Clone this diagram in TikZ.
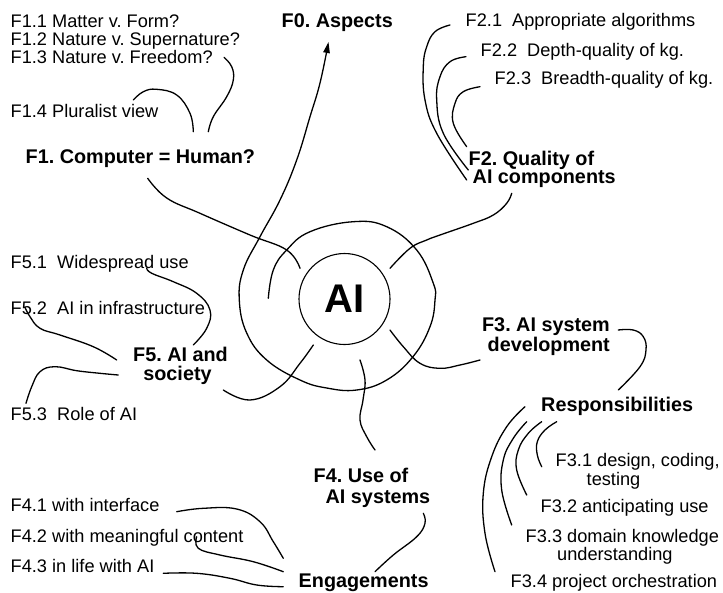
\documentclass[tikz,border=0pt]{standalone}
\usepackage{fontspec}
\setmainfont{Liberation Sans}
\usetikzlibrary{arrows.meta}
\frenchspacing
\begin{document}
\begin{tikzpicture}[x=1pt,y=-1pt,
  lbl/.style={inner sep=0pt,anchor=base west,font=\fontsize{18.2}{20}\selectfont},
  hd/.style={inner sep=0pt,anchor=base west,font=\fontsize{19.8}{22}\selectfont\bfseries},
  conn/.style={line width=1.3pt,line cap=round},
  crv/.style={smooth,tension=0.7}]
\useasboundingbox[fill=white] (0,0) rectangle (723,592);

% central circle
\node[circle,draw,line width=1.1pt,minimum size=91pt,inner sep=0pt,
      font=\fontsize{40}{40}\selectfont\bfseries] (ai) at (344.5,299) {AI};

% main labels
\node[hd] (f0) at (281.5,27) {F0. Aspects};
\node[hd] (f1) at (25.5,163) {F1. Computer = Human?};
\node[hd] (f2a) at (468.5,165) {F2. Quality of};
\node[hd] (f2b) at (472.5,183.5) {AI components};
\node[hd,anchor=base east] (f3a) at (610,331) {F3. AI system};
\node[hd,anchor=base east] (f3b) at (610,351) {development};
\node[hd] (resp) at (541,411) {Responsibilities};
\node[hd] (f4a) at (313.5,482.5) {F4. Use of};
\node[hd] (f4b) at (325.5,503) {AI systems};
\node[hd] (eng) at (298.5,587) {Engagements};
\node[hd,anchor=base] (f5a) at (180.5,361.5) {F5. AI and};
\node[hd,anchor=base] (f5b) at (177.5,380) {society};

% sub labels
\node[lbl] (f11) at (10.5,27) {F1.1 Matter v. Form?};
\node[lbl] (f12) at (10.5,45) {F1.2 Nature v. Supernature?};
\node[lbl] (f13) at (10.5,63) {F1.3 Nature v. Freedom?};
\node[lbl] (f14) at (10.5,117) {F1.4 Pluralist view};
\node[lbl] (f21) at (465.5,26) {F2.1~~Appropriate algorithms};
\node[lbl] (f22) at (480.5,56) {F2.2~~Depth-quality of kg.};
\node[lbl] (f23) at (494.5,84) {F2.3~~Breadth-quality of kg.};
\node[lbl] (f31) at (555.5,466) {F3.1 design, coding,};
\node[lbl] (f31b) at (586.5,485) {testing};
\node[lbl] (f32) at (540.5,512) {F3.2 anticipating use};
\node[lbl] (f33) at (525.5,542) {F3.3 domain knowledge};
\node[lbl] (f33b) at (557,560) {understanding};
\node[lbl] (f34) at (510.5,587) {F3.4 project orchestration};
\node[lbl] (f41) at (10.5,511.5) {F4.1 with interface};
\node[lbl] (f42) at (10.5,542.5) {F4.2 with meaningful content};
\node[lbl] (f43) at (10.5,572) {F4.3 in life with AI};
\node[lbl] (f51) at (10.5,268) {F5.1~~Widespread use};
\node[lbl] (f52) at (10.5,314) {F5.2~~AI in infrastructure};
\node[lbl] (f53) at (10.5,420.5) {F5.3~~Role of AI};

% named end points
\coordinate (sp0) at (268.3,298.3);
\coordinate (f0tip) at (328.5,42);
\coordinate (f1s) at (147.7,178.3);   \coordinate (f1e) at (300,268.3);
\coordinate (f1as) at (224,57.3);     \coordinate (f1ae) at (208.3,131.7);
\coordinate (f1bs) at (133.3,100);    \coordinate (f1be) at (193.3,131.7);
\coordinate (f2s) at (511.7,193.3);   \coordinate (f2e) at (390,268.3);
\coordinate (f21s) at (450,25);       \coordinate (f21e) at (466.7,180);
\coordinate (f22s) at (466,56.7);     \coordinate (f22e) at (468.3,170);
\coordinate (f23s) at (480,86.7);     \coordinate (f23e) at (466.7,146.7);
\coordinate (f3s) at (390,330);       \coordinate (f3e) at (480,360);
\coordinate (f3rs) at (618.3,330);    \coordinate (f3re) at (618.3,390);
\coordinate (f31s) at (556.7,421.7);  \coordinate (f31e) at (541.7,466.7);
\coordinate (f32s) at (541.7,421.7);  \coordinate (f32e) at (526.7,495);
\coordinate (f33s) at (526.7,421.7);  \coordinate (f33e) at (511.7,525);
\coordinate (f34s) at (525,406.7);    \coordinate (f34e) at (495,571.7);
\coordinate (f4s) at (360,360);       \coordinate (f4e) at (375,450);
\coordinate (f4rs) at (423.3,513.3);  \coordinate (f4re) at (375,571.7);
\coordinate (f41s) at (176.7,511.7);  \coordinate (f41e) at (283.3,558.3);
\coordinate (f42s) at (196.7,536.7);  \coordinate (f42e) at (283.3,571.7);
\coordinate (f43s) at (163.3,573.3);  \coordinate (f43e) at (283.3,586.7);
\coordinate (f5s) at (313.3,345);     \coordinate (f5e) at (223.3,390);
\coordinate (f51s) at (146.7,268.3);  \coordinate (f51e) at (193.3,345);
\coordinate (f52s) at (25,307.3);     \coordinate (f52e) at (116.7,360);
\coordinate (f53s) at (118.3,375);    \coordinate (f53e) at (26,403.3);

% spiral to F0
\draw[conn,-{Triangle[length=11pt,width=6.5pt]}] plot[crv] coordinates {
  (sp0) (273.3,270) (286.7,250) (310,231.7) (353.3,221.7) (386.7,226.7)
  (416.7,250) (433.3,283.3) (435,300) (430,326.7) (413,356.7) (386.7,380)
  (356.7,390) (326.7,388) (300,380) (266.7,360) (246.7,333) (239.3,300)
  (243.3,270) (260,236.7) (280,200) (296.7,160) (310,116.7) (320,83) (f0tip)};

% F1
\draw[conn] plot[crv] coordinates {(f1s) (166.7,198) (200,213.3) (250,235) (286.7,250) (f1e)};
\draw[conn] plot[crv] coordinates {(f1as) (231.7,66.7) (233.3,80) (226.7,96.7) (213.3,116.7) (f1ae)};
\draw[conn] plot[crv] coordinates {(f1bs) (143.3,91.7) (156.7,89.3) (176.7,95) (190,113.3) (f1be)};

% F2
\draw[conn] plot[crv] coordinates {(f2s) (506.7,203.3) (493.3,215) (473.3,223.3) (440,235) (426.7,240) (410,248.3) (f2e)};
\draw[conn] plot[crv] coordinates {(f21s) (435,31.7) (426.7,46.7) (423.3,66.7) (425,100) (436.7,133.3) (f21e)};
\draw[conn] plot[crv] coordinates {(f22s) (450,61.7) (440,76.7) (436.7,100) (443.3,133.3) (f22e)};
\draw[conn] plot[crv] coordinates {(f23s) (463.3,91.7) (455,103.3) (453.3,123.3) (f23e)};

% F3
\draw[conn] plot[crv] coordinates {(f3s) (403.3,346.7) (420,363.3) (440,368.3) (460,365) (f3e)};
\draw[conn] plot[crv] coordinates {(f3rs) (633.3,330) (643.3,336.7) (646,350) (640,366.7) (f3re)};
\draw[conn] plot[crv] coordinates {(f31s) (545,430) (537.3,441.7) (537.3,455) (f31e)};
\draw[conn] plot[crv] coordinates {(f32s) (528.3,433.3) (518.3,450) (516.7,470) (f32e)};
\draw[conn] plot[crv] coordinates {(f33s) (513.3,438.3) (503.3,460) (501.7,490) (f33e)};
\draw[conn] plot[crv] coordinates {(f34s) (506.7,426.7) (491.7,456.7) (483.3,493.3) (485,533.3) (f34e)};

% F4
\draw[conn] plot[crv] coordinates {(f4s) (365,380) (363,400) (360,420) (366.7,436.7) (f4e)};
\draw[conn] plot[crv] coordinates {(f4rs) (425,523.3) (416.7,536.7) (393.3,555) (f4re)};
\draw[conn] plot[crv] coordinates {(f41s) (203.3,508.3) (236.7,509) (260,521.7) (273.3,541.7) (f41e)};
\draw[conn] plot[crv] coordinates {(f42s) (198.3,548.3) (220,555) (253.3,561.7) (f42e)};
\draw[conn] plot[crv] coordinates {(f43s) (196.7,573.3) (230,578.3) (256.7,585) (f43e)};

% F5
\draw[conn] plot[crv] coordinates {(f5s) (300,363.3) (280,386.7) (250,400) (f5e)};
\draw[conn] plot[crv] coordinates {(f51s) (151.7,273.3) (173.3,281.7) (196.7,293.3) (210,310) (206.7,328.3) (f51e)};
\draw[conn] plot[crv] coordinates {(f52s) (30,316.7) (40,328.3) (60,335) (93.3,346.7) (f52e)};
\draw[conn] plot[crv] coordinates {(f53s) (100,373.3) (76.7,370.7) (55,366.7) (40,371.7) (31.7,386.7) (f53e)};
\end{tikzpicture}
\end{document}
